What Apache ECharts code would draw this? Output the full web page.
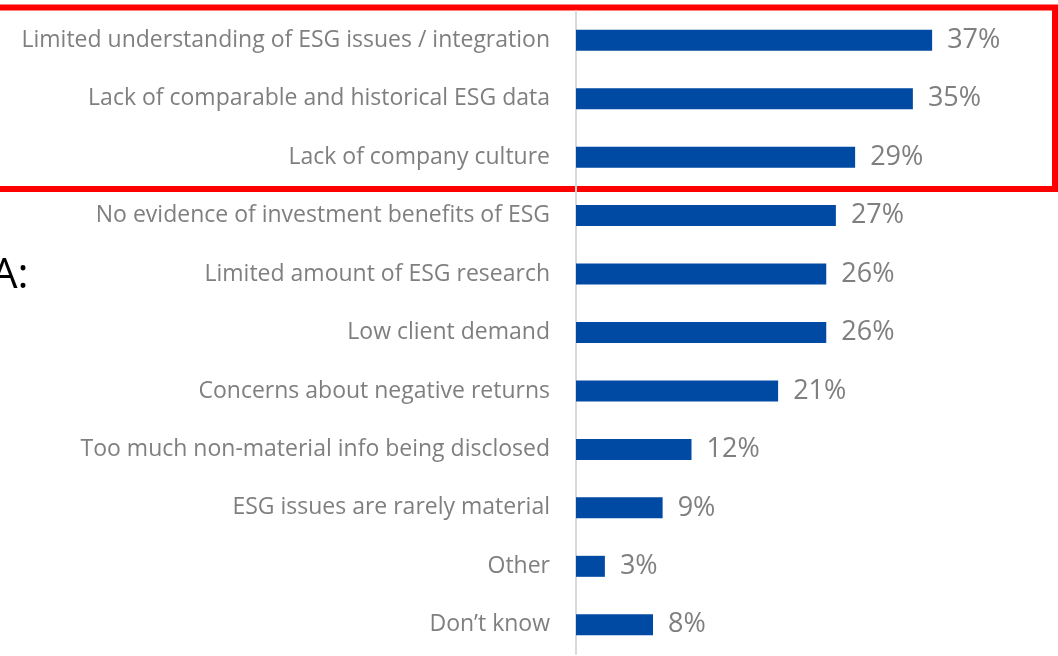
<!DOCTYPE html>
<html>
<head>
<meta charset="utf-8">
<script src="https://cdn.jsdelivr.net/npm/echarts@6/dist/echarts.min.js"></script>
<style>
  html, body { margin: 0; padding: 0; background: #fff; }
  #chart { width: 1058px; height: 656px; }
</style>
</head>
<body>
<div id="chart"></div>
<script>
const categories = [
  'Limited understanding of ESG issues / integration',
  'Lack of comparable and historical ESG data',
  'Lack of company culture',
  'No evidence of investment benefits of ESG',
  'Limited amount of ESG research',
  'Low client demand',
  'Concerns about negative returns',
  'Too much non-material info being disclosed',
  'ESG issues are rarely material',
  'Other',
  'Don\u2019t know'
]
const values = [37, 35, 29, 27, 26, 26, 21, 12, 9, 3, 8]

const chart = echarts.init(document.getElementById('chart'))
chart.setOption({
  animation: false,
  grid: { left: 576, width: 385, top: 11, height: 643 },
  xAxis: {
    type: 'value',
    min: 0,
    max: 40,
    show: false
  },
  yAxis: {
    type: 'category',
    inverse: true,
    data: categories,
    axisLine: { show: true, lineStyle: { color: '#d9d9d9', width: 2 } },
    axisTick: { show: false },
    axisLabel: {
      margin: 26,
      color: '#7f7f7f',
      fontSize: 23,
      fontFamily: 'Open Sans',
      padding: [4, 0, 0, 0]
    }
  },
  series: [{
    type: 'bar',
    data: values,
    barWidth: 21,
    itemStyle: { color: '#004aa3' },
    label: {
      show: true,
      position: 'right',
      distance: 15,
      formatter: '{c}%',
      color: '#7f7f7f',
      fontSize: 27,
      fontFamily: 'Open Sans',
      padding: [4, 0, 0, 0]
    }
  }],
  graphic: [
    {
      type: 'rect',
      shape: { x: -10, y: 7.5, width: 1065, height: 181.5 },
      style: { fill: 'none', stroke: '#ff0000', lineWidth: 6 }
    },
    {
      type: 'text',
      left: -9,
      top: 255,
      style: { text: 'A:', fill: '#000', fontSize: 42, fontFamily: 'Open Sans' }
    }
  ]
})
</script>
</body>
</html>
